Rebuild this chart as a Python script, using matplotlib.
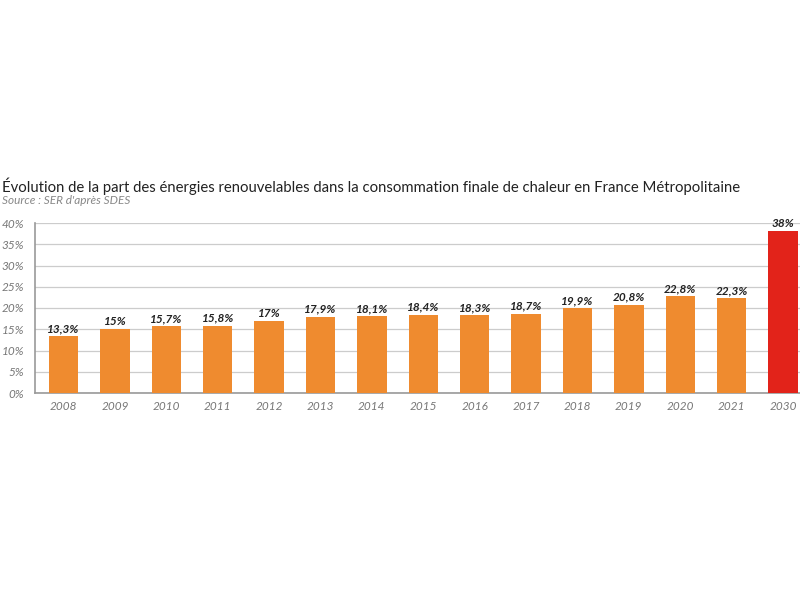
import matplotlib.pyplot as plt
import numpy as np

# data
years = ['2008', '2009', '2010', '2011', '2012', '2013', '2014', '2015',
         '2016', '2017', '2018', '2019', '2020', '2021', '2030']
shares = [13.3, 15, 15.7, 15.8, 17, 17.9, 18.1, 18.4, 18.3, 18.7, 19.9,
          20.8, 22.8, 22.3, 38]
value_labels = ['13,3%', '15%', '15,7%', '15,8%', '17%', '17,9%', '18,1%',
                '18,4%', '18,3%', '18,7%', '19,9%', '20,8%', '22,8%',
                '22,3%', '38%']
y_ticks = [0, 5, 10, 15, 20, 25, 30, 35, 40]

plt.rcParams['font.family'] = ['Lato', 'DejaVu Sans']

orange = '#ef8b2f'
red = '#e2231a'
colors = [orange] * 14 + [red]

fig = plt.figure(figsize=(8, 6), dpi=100)
ax = fig.add_axes([35 / 800, 1 - 393 / 600, 765 / 800, 170 / 600])

index = np.arange(len(years))
ax.bar(index, shares, width=0.57, color=colors, zorder=3)

for i in range(len(index)):
    ax.text(index[i], shares[i] + 0.5, value_labels[i], ha='center', va='bottom',
            fontsize=8.5, fontweight='bold', fontstyle='italic', color='#222222',
            zorder=4)

ax.set_xlim(-0.555, 14.33)
ax.set_ylim(0, 40)
ax.set_yticks(y_ticks)
ax.set_yticklabels([str(t) + '%' for t in y_ticks])
ax.set_xticks(index)
ax.set_xticklabels(years)
ax.grid(axis='y', color='#cccccc', linewidth=0.9, zorder=0)
ax.tick_params(length=0, colors='#777777', labelsize=8.5)
ax.tick_params(axis='y', pad=8)
ax.tick_params(axis='x', pad=6)
for lab in ax.get_xticklabels() + ax.get_yticklabels():
    lab.set_fontstyle('italic')
    lab.set_color('#777777')
for s in ['top', 'right']:
    ax.spines[s].set_visible(False)
for s in ['left', 'bottom']:
    ax.spines[s].set_color('#999999')
    ax.spines[s].set_linewidth(1.2)

fig.text(2 / 800, 1 - 186 / 600,
         'Évolution de la part des énergies renouvelables dans la consommation '
         'finale de chaleur en France Métropolitaine',
         fontsize=10.7, color='#222222', va='center', ha='left')
fig.text(2 / 800, 1 - 201 / 600, 'Source : SER d\'après SDES', fontsize=8.5,
         fontstyle='italic', color='#888888', va='center', ha='left')

fig.savefig('out.png', dpi=100)
